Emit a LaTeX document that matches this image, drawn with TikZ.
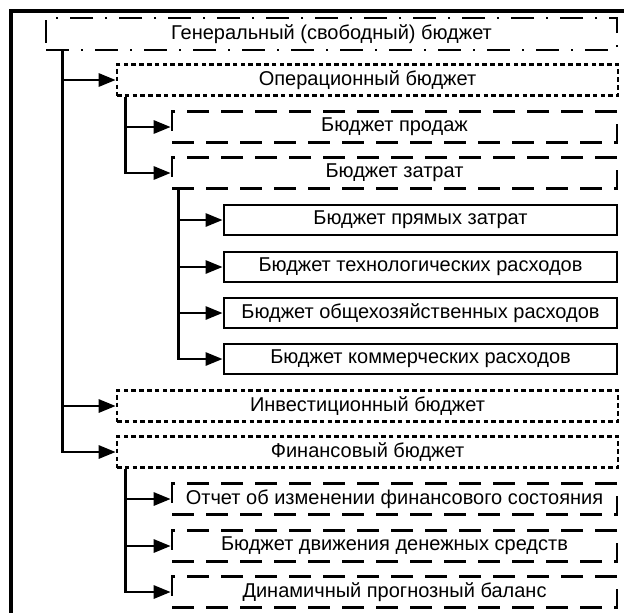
\documentclass[tikz,border=0pt]{standalone}
\usepackage{fontspec}
\setmainfont{Liberation Sans}
\usetikzlibrary{arrows.meta}

\begin{document}
\begin{tikzpicture}[x=0.5pt, y=-0.5pt,
		every node/.style={font=\fontsize{10}{12}\selectfont, inner sep=0pt},
		genbox/.style={draw, line width=1.4pt, dash pattern=on 11.5pt off 6pt on 1pt off 6pt, minimum width=285.5pt, minimum height=16pt},
		lvlone/.style={draw, line width=1.3pt, dash pattern=on 2.3pt off 1.6pt, minimum width=250.5pt, minimum height=15.5pt},
		lvltwo/.style={draw, line width=1.3pt, dash pattern=on 11pt off 6pt, minimum width=222.5pt, minimum height=15.5pt},
		lvlthree/.style={draw, line width=1.4pt, minimum width=196.5pt, minimum height=15pt},
		arr/.style={line width=1.4pt, -{Triangle[length=8.5pt, width=6.5pt]}}]
		\useasboundingbox (0,0) rectangle (624,612);
		\draw[line width=1.7pt] (11,11) rectangle (660,660);
		\node[genbox] (gen) at (331.5,34) {Генеральный (свободный) бюджет};
		\node[lvlone] (oper) at (367.5,80) {Операционный бюджет};
		\node[lvltwo] (prod) at (394.5,127) {Бюджет продаж};
		\node[lvltwo] (zatr) at (394.5,173) {Бюджет затрат};
		\node[lvlthree] (pryam) at (420.5,220) {Бюджет прямых затрат};
		\node[lvlthree] (tehn) at (420.5,267) {Бюджет технологических расходов};
		\node[lvlthree] (obsch) at (420.5,313) {Бюджет общехозяйственных расходов};
		\node[lvlthree] (komm) at (420.5,359) {Бюджет коммерческих расходов};
		\node[lvlone] (invest) at (367.5,406) {Инвестиционный бюджет};
		\node[lvlone] (fin) at (367.5,452) {Финансовый бюджет};
		\node[lvltwo] (otchet) at (394.5,499) {Отчет об изменении финансового состояния};
		\node[lvltwo] (dds) at (394.5,546) {Бюджет движения денежных средств};
		\node[lvltwo] (balans) at (394.5,592) {Динамичный прогнозный баланс};
		% strelki
		\foreach \t in {oper,invest,fin}
			\draw[arr] ([xshift=9pt]gen.south west) |- (\t.west);
		\foreach \t in {prod,zatr}
			\draw[arr] ([xshift=5pt]oper.south west) |- (\t.west);
		\foreach \t in {pryam,tehn,obsch,komm}
			\draw[arr] ([xshift=4pt]zatr.south west) |- (\t.west);
		\foreach \t in {otchet,dds,balans}
			\draw[arr] ([xshift=5pt]fin.south west) |- (\t.west);
	\end{tikzpicture}
\end{document}
